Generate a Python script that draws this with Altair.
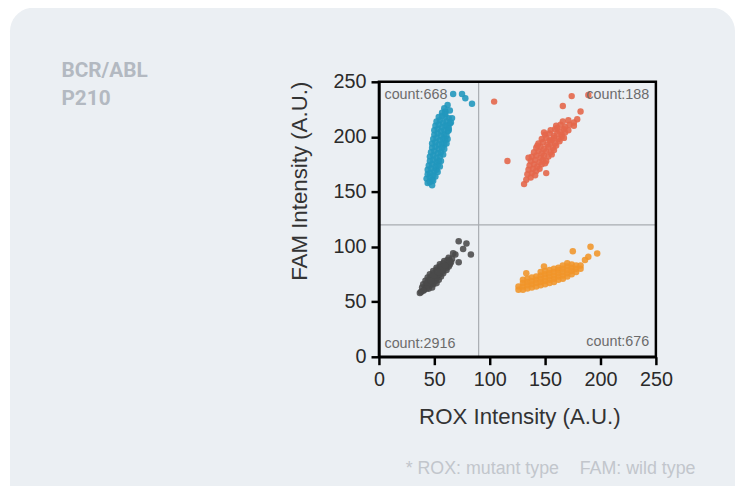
import altair as alt
import pandas as pd

# ---------------- data ----------------
blue_x = [57, 60, 54, 57, 60, 63, 52, 55, 58, 61, 64, 51, 54, 57, 60, 63, 50, 53, 56, 59, 62,
          50, 53, 56, 59, 61, 49, 52, 55, 58, 60, 48, 51, 54, 57, 59, 48, 51, 54, 57, 47, 50,
          53, 56, 46, 49, 52, 55, 46, 49, 52, 54, 45, 48, 51, 53, 44, 47, 50, 52, 44, 46, 49,
          43, 46, 48, 44, 46, 62, 65, 63, 62, 61, 59, 58, 56, 55, 53, 51, 49, 66, 60, 48,
          62, 64, 67, 75, 78, 84, 59]
blue_y = [222, 223, 218, 219, 218, 217, 214, 215, 213, 214, 212, 210, 211, 209, 210, 208, 206,
          207, 205, 206, 205, 202, 203, 201, 202, 201, 198, 199, 197, 198, 197, 194, 195, 193,
          194, 193, 190, 191, 189, 190, 186, 187, 185, 186, 182, 183, 181, 182, 178, 179, 177,
          178, 174, 175, 173, 174, 170, 171, 169, 170, 166, 167, 165, 162, 163, 161, 158, 159,
          210, 213, 206, 198, 194, 189, 184, 178, 173, 168, 164, 160, 217, 221, 156,
          229, 224, 239, 239, 235, 230, 226]

red_x = [133, 137, 134, 138, 141, 135, 139, 142, 145, 136, 140, 143, 147, 150, 137, 141, 145,
         148, 151, 138, 142, 146, 149, 153, 156, 140, 144, 147, 151, 155, 158, 142, 146, 149,
         153, 157, 160, 144, 148, 152, 155, 159, 163, 147, 151, 154, 158, 162, 165, 150, 154,
         158, 161, 165, 168, 155, 159, 163, 167, 171, 160, 164, 168, 172, 176, 166, 171, 176,
         104, 116, 174, 166, 182, 189, 151, 131, 179, 135, 143, 149, 156, 161, 167]
red_y = [161, 163, 166, 167, 165, 170, 171, 169, 171, 174, 175, 173, 175, 176, 178, 179, 177,
         179, 178, 182, 183, 181, 183, 182, 184, 186, 187, 185, 187, 186, 188, 190, 191, 189,
         191, 190, 192, 194, 195, 193, 195, 194, 196, 198, 199, 197, 199, 198, 200, 202, 203,
         201, 203, 202, 204, 206, 207, 205, 207, 206, 210, 211, 209, 211, 210, 214, 215, 213,
         232, 178, 237, 228, 223, 238, 167, 157, 216, 181, 192, 204, 197, 208, 199]

gray_x = [38, 41, 39, 42, 45, 48, 40, 43, 46, 49, 52, 42, 45, 48, 51, 54, 44, 47, 50, 53, 56,
          46, 49, 52, 55, 58, 49, 52, 55, 58, 61, 52, 55, 58, 61, 63, 55, 58, 61, 64, 59, 62,
          65, 63, 66, 44, 47, 57, 60, 50, 53, 43, 64, 40, 37,
          72, 79, 76, 83, 69, 72, 67]
gray_y = [59, 61, 63, 64, 62, 63, 66, 67, 65, 66, 67, 69, 70, 68, 69, 70, 72, 73, 71, 72, 73,
          75, 76, 74, 75, 76, 78, 79, 77, 78, 79, 81, 82, 80, 81, 82, 84, 85, 83, 84, 87, 88,
          86, 90, 89, 66, 69, 79, 83, 74, 77, 62, 87, 60, 58,
          105, 103, 98, 93, 93, 86, 94]

orange_x = [126, 126, 130, 130, 130, 130, 134, 134, 134, 134, 138, 138, 138, 138, 142, 142, 142,
            142, 146, 146, 146, 146, 146, 150, 150, 150, 150, 150, 154, 154, 154, 154, 154, 158,
            158, 158, 158, 158, 162, 162, 162, 162, 162, 166, 166, 166, 166, 166, 170, 170, 170,
            170, 170, 174, 174, 174, 174, 178, 178, 178, 182, 182, 175, 191, 197, 189, 133, 149,
            186]
orange_y = [61, 64, 61, 64, 67, 70, 62, 65, 68, 71, 63, 66, 69, 72, 64, 67, 70, 73, 65, 68, 71,
            74, 77, 66, 69, 72, 75, 78, 67, 70, 73, 76, 79, 68, 71, 74, 77, 80, 70, 73, 76, 79,
            81, 71, 74, 77, 80, 83, 73, 76, 79, 82, 85, 75, 78, 81, 84, 77, 80, 83, 80, 83, 96,
            100, 94, 91, 76, 82, 88]

groups = ["gray", "orange", "blue", "red"]
group_colors = ["#4a4a4a", "#f0952a", "#2297bd", "#e4674b"]
group_opacity = [0.88, 0.9, 0.9, 0.92]
group_size = [44, 42, 42, 28]

count_labels = ["count:668", "count:188", "count:2916", "count:676"]
axis_ticks = [0, 50, 100, 150, 200, 250]
title_lines = ["BCR/ABL", "P210"]
foot_left = "* ROX: mutant type"
foot_right = "FAM: wild type"

# ---------------- build table ----------------
frames = []
for g, xs, ys in [("gray", gray_x, gray_y), ("orange", orange_x, orange_y),
                  ("blue", blue_x, blue_y), ("red", red_x, red_y)]:
    frames.append(pd.DataFrame({"x": xs, "y": ys, "g": g}))
pts = pd.concat(frames, ignore_index=True)

dummy = pd.DataFrame({"a": [0]})
xscale = alt.Scale(domain=[0, 250], nice=False)
yscale = alt.Scale(domain=[0, 250], nice=False)

FONT = "Liberation Sans"

card = alt.Chart(dummy).mark_rect(color="#ebeff3", cornerRadius=24).encode(
    x=alt.value(-373), x2=alt.value(360), y=alt.value(-75), y2=alt.value(470)
)

vline = alt.Chart(dummy).mark_rule(color="#a8acb1", strokeWidth=1.2).encode(
    x=alt.X(datum=90, scale=xscale)
)
hline = alt.Chart(dummy).mark_rule(color="#a8acb1", strokeWidth=1.2).encode(
    y=alt.Y(datum=120, scale=yscale)
)
frame = alt.Chart(dummy).mark_rect(fillOpacity=0, stroke="black", strokeWidth=2.5).encode(
    x=alt.X(datum=0, scale=xscale), x2=alt.datum(250),
    y=alt.Y(datum=0, scale=yscale), y2=alt.datum(250),
)

points = alt.Chart(pts).mark_circle(strokeWidth=0).encode(
    x=alt.X("x:Q", scale=xscale, title="ROX Intensity (A.U.)",
            axis=alt.Axis(values=axis_ticks, zindex=2, titleX=142, titleY=60,
                          titleBaseline="middle", labelFlush=False)),
    y=alt.Y("y:Q", scale=yscale, title="FAM Intensity (A.U.)",
            axis=alt.Axis(values=axis_ticks, zindex=2, titleX=-80, titleY=100,
                          titleAngle=270, titleAlign="center", titleBaseline="middle",
                          labelFlush=False)),
    color=alt.Color("g:N", scale=alt.Scale(domain=groups, range=group_colors), legend=None),
    opacity=alt.Opacity("g:N", scale=alt.Scale(domain=groups, range=group_opacity), legend=None),
    size=alt.Size("g:N", scale=alt.Scale(domain=groups, range=group_size), legend=None),
)

count_pos = [(5, 238, "left"), (244, 238, "right"), (5, 12, "left"), (244, 13, "right")]
count_layers = []
for lab, (cx, cy, al) in zip(count_labels, count_pos):
    count_layers.append(
        alt.Chart(dummy).mark_text(text=lab, align=al, baseline="middle", fontSize=14.5,
                                   font=FONT, color="#6b6b6b").encode(
            x=alt.X(datum=cx, scale=xscale), y=alt.Y(datum=cy, scale=yscale))
    )

title = alt.Chart(dummy).mark_text(text=title_lines, align="left", baseline="alphabetic",
                                   fontSize=21, fontWeight="bold", font="Roboto",
                                   color="#b3b9c1", lineHeight=28).encode(
    x=alt.value(-321), y=alt.value(-5)
)
foot1 = alt.Chart(dummy).mark_text(text=foot_left, align="left", baseline="alphabetic",
                                   fontSize=18, font=FONT, color="#c2c6cc").encode(
    x=alt.value(27), y=alt.value(396)
)
foot2 = alt.Chart(dummy).mark_text(text=foot_right, align="left", baseline="alphabetic",
                                   fontSize=18, font=FONT, color="#c2c6cc").encode(
    x=alt.value(203), y=alt.value(396)
)

chart = alt.layer(card, vline, hline, points, frame, *count_layers, title, foot1, foot2).properties(
    width=280, height=278,
    padding={"left": 375, "top": 72, "right": 82, "bottom": 128},
    autosize=alt.AutoSizeParams(type="none"),
    background="white",
).configure_view(strokeWidth=0).configure_axis(
    domainColor="black", domainWidth=2.5, tickColor="black", tickWidth=2.5, tickSize=8,
    labelFont=FONT, labelFontSize=20, labelColor="#2a2a2a", labelPadding=5,
    titleFont=FONT, titleFontSize=22.5, titleFontWeight="normal", titleColor="#333333",
    grid=False,
)

chart.save("out.html", embed_options={"renderer": "svg", "actions": False})
